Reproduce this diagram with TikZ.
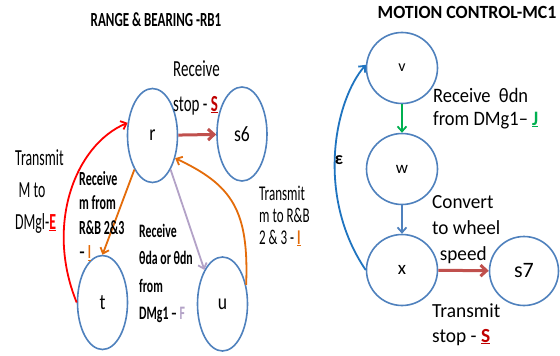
\documentclass[tikz,border=0pt]{standalone}
\usepackage{fontspec}
\setmainfont{Carlito}
\usepackage{graphicx}
\usetikzlibrary{shapes.geometric,arrows.meta}

\definecolor{nodeblue}{HTML}{4F81BD}
\definecolor{darkred}{HTML}{C0504D}
\definecolor{deepred}{HTML}{C00000}
\definecolor{brightred}{HTML}{FF0000}
\definecolor{orng}{HTML}{E46C0A}
\definecolor{lav}{HTML}{B3A2C7}
\definecolor{grn}{HTML}{00B050}
\definecolor{epsblue}{HTML}{1F74C0}

% horizontal squeeze of a text block, and font size with line pitch
\newcommand{\sx}[2]{\scalebox{#1}[1]{#2}}
\newcommand{\fs}[2]{\fontsize{#1}{#2}\selectfont}
\newcommand{\lines}[1]{\begin{tabular}[t]{@{}l@{}}#1\end{tabular}}

\begin{document}
\begin{tikzpicture}[x=1pt,y=-1pt,
  state/.style={ellipse, draw=nodeblue, line width=1.6pt, minimum width=50pt,
    minimum height=94pt, inner sep=0pt, font=\fs{22}{24}},
  rstate/.style={circle, draw=nodeblue, line width=1.6pt, minimum size=71pt,
    inner sep=0pt},
  txt/.style={inner sep=0pt, anchor=base west},
  tip/.style={-{Straight Barb[length=5pt,width=9pt]}},
  bigtip/.style={-{Straight Barb[length=6pt,width=11pt]}},
  link/.style={line width=1.8pt, tip},
  thick link/.style={line width=3pt, bigtip},
]
\fill[white] (0,0) rectangle (560,356);
\useasboundingbox (0,0) rectangle (560,356);

% ---- Range & Bearing RB1 ----
\node[inner sep=0pt, anchor=base, font=\fs{20}{24}\bfseries] (rbtitle) at (156,26.5)
  {\sx{0.65}{RANGE \& BEARING -RB1}};

\node[state] (r)  at (152.5,135.5) {\sx{0.8}{r}};
\node[state] (s6) at (242,134)     {\sx{0.8}{s6}};
\node[state] (t)  at (102.5,302.5) {\sx{0.8}{t}};
\node[state] (u)  at (222.5,304)   {\sx{0.8}{u}};

\draw[darkred, thick link] (r) -- (s6);
\draw[brightred, link] (t.west) .. controls (45,225) and (75,145) .. (r.153);
\draw[orng, link] (r.242) -- (t.north);
\draw[lav, link] (r.298) -- (u.118);
\draw[orng, link] (u.39) .. controls (249,210) and (232,185) .. (r.-45);

\node[txt, font=\fs{23}{35}] (lblstop) at (173,76)
  {\sx{0.65}{\lines{Receive\\stop - \textcolor{deepred}{\textbf{\underline{S}}}}}};
\node[txt, font=\fs{23}{32}] (lblsendM) at (15,165)
  {\sx{0.6}{\lines{Transmit\\\hspace{0.25em}M to\\DMgl-\textcolor{brightred}{\textbf{\underline{E}}}}}};
\node[txt, font=\fs{20}{24.5}\bfseries] (lblrecvm) at (79,185)
  {\sx{0.6}{\lines{Receive\\m from\\R\&B 2\&3\\– \textcolor{orng}{\underline{I}}}}};
\node[txt, font=\fs{19}{27.5}\bfseries] (lblrecvtheta) at (139,237)
  {\sx{0.62}{\lines{Receive\\θda or θdn\\from\\DMg1 – \textcolor{lav}{F}}}};
\node[txt, font=\fs{21}{22}] (lblsendm) at (259,200)
  {\sx{0.62}{\lines{Transmit\\m to R\&B\\2 \& 3 - \textcolor{orng}{\textbf{\underline{I}}}}}};

% ---- Motion Control MC1 ----
\node[inner sep=0pt, anchor=base, font=\fs{18.6}{22}\bfseries] (mctitle) at (467,19)
  {\sx{0.96}{MOTION CONTROL-MC1}};

\node[rstate, font=\fs{16}{18}] (v) at (402,68)  {v};
\node[rstate, font=\fs{17}{19}] (w) at (402,169) {w};
\node[rstate, font=\fs{19}{21}] (x) at (402,270) {x};
\node[rstate, minimum size=69pt, font=\fs{22}{24}] (s7) at (524,271) {s7};

\draw[grn, link] (v) -- (w);
\draw[nodeblue, link] (w) -- (x);
\draw[darkred, thick link] (x) -- (s7);
\draw[epsblue, link] (x.west) .. controls (315,195) and (335,100) .. (v.175);

\node[inner sep=0pt, font=\fs{18}{20}\bfseries] (eps) at (339,160) {ε};
\node[txt, font=\fs{20.5}{23}] (lblrecvdn) at (433,102)
  {\sx{0.9}{\lines{Receive\ \ θdn\\from DMg1– \textcolor{grn}{\textbf{\underline{J}}}}}};
\node[txt, font=\fs{20}{26}] (lblconvert) at (432,208)
  {\sx{0.96}{\lines{Convert\\to wheel\\\hspace{0.4em}speed}}};
\node[txt, font=\fs{20}{25}] (lblsendstop) at (432,317)
  {\sx{0.97}{\lines{Transmit\\stop - \textcolor{deepred}{\textbf{\underline{S}}}}}};
\end{tikzpicture}
\end{document}
